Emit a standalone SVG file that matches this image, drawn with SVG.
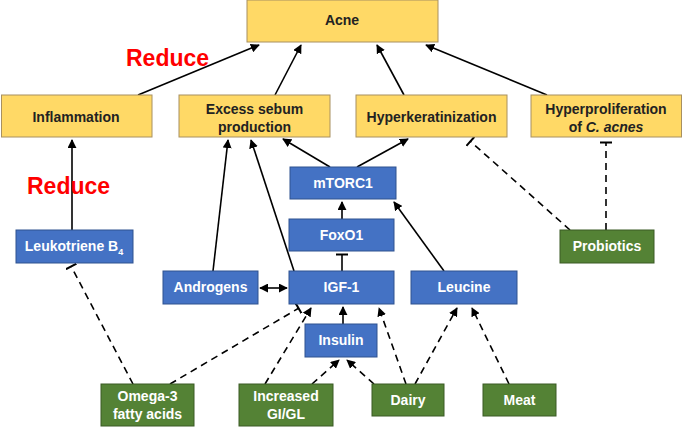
<svg xmlns="http://www.w3.org/2000/svg" width="682" height="428" viewBox="0 0 682 428">
<style>
.y{fill:#FFD966;stroke:#A89060;stroke-width:1}
.b{fill:#4472C4;stroke:#2F528F;stroke-width:1}
.g{fill:#548235;stroke:#3A5A24;stroke-width:1}
text{font-family:"Liberation Sans",Arial,sans-serif;font-weight:bold;font-size:14px;text-anchor:middle}
.dt{fill:#222}
.wt{fill:#fff}
.red{fill:#FF0000;font-size:23px;font-weight:bold;text-anchor:start}
.s{stroke:#000;stroke-width:1.6;fill:none}
.d{stroke:#000;stroke-width:1.6;fill:none;stroke-dasharray:7,5}
</style>
<defs>
<marker id="ah2" viewBox="0 0 10 10" refX="9" refY="5" markerWidth="9" markerHeight="9" orient="auto-start-reverse" markerUnits="userSpaceOnUse">
<path d="M0,0 L10,5 L0,10 z" fill="#000"/>
</marker>
<marker id="tb" viewBox="0 0 4 12" refX="2" refY="6" markerWidth="4" markerHeight="12" orient="auto" markerUnits="userSpaceOnUse">
<rect x="0.5" y="0" width="2" height="12" fill="#000"/>
</marker>
</defs>
<g id="connectors">
<line class="s" x1="138" y1="95" x2="259" y2="45" marker-end="url(#ah2)"/>
<line class="s" x1="275" y1="95" x2="301" y2="45" marker-end="url(#ah2)"/>
<line class="s" x1="404" y1="95" x2="377" y2="45" marker-end="url(#ah2)"/>
<line class="s" x1="547" y1="95" x2="426" y2="45" marker-end="url(#ah2)"/>
<line class="s" x1="72" y1="230" x2="72" y2="140" marker-end="url(#ah2)"/>
<line class="s" x1="330" y1="167" x2="283" y2="139" marker-end="url(#ah2)"/>
<line class="s" x1="357" y1="167" x2="408" y2="139" marker-end="url(#ah2)"/>
<line class="s" x1="444" y1="271" x2="394" y2="202" marker-end="url(#ah2)"/>
<line class="s" x1="342" y1="219" x2="342" y2="202" marker-end="url(#ah2)"/>
<line class="s" x1="342" y1="271" x2="342" y2="254" marker-end="url(#tb)"/>
<line class="s" x1="213" y1="271" x2="228" y2="140" marker-end="url(#ah2)"/>
<line class="s" x1="294" y1="271" x2="251" y2="140" marker-end="url(#ah2)"/>
<line class="s" x1="260" y1="288" x2="287" y2="288" marker-start="url(#ah2)" marker-end="url(#ah2)"/>
<line class="s" x1="343" y1="324" x2="343" y2="307" marker-end="url(#ah2)"/>
<line class="d" x1="570" y1="230" x2="470" y2="141" marker-end="url(#tb)"/>
<line class="d" x1="606" y1="230" x2="606" y2="142" marker-end="url(#tb)"/>
<line class="d" x1="133" y1="384" x2="71" y2="266" marker-end="url(#tb)"/>
<line class="d" x1="170" y1="384" x2="299" y2="308" marker-end="url(#tb)"/>
<line class="d" x1="265" y1="384" x2="311" y2="308" marker-end="url(#ah2)"/>
<line class="d" x1="312" y1="384" x2="339" y2="360" marker-end="url(#ah2)"/>
<line class="d" x1="374" y1="384" x2="347" y2="360" marker-end="url(#ah2)"/>
<line class="d" x1="406" y1="384" x2="379" y2="308" marker-end="url(#ah2)"/>
<line class="d" x1="415" y1="384" x2="457" y2="308" marker-end="url(#ah2)"/>
<line class="d" x1="509" y1="384" x2="472" y2="308" marker-end="url(#ah2)"/>
</g>
<g id="acne"><rect class="y" x="247" y="0" width="191" height="42"/><text class="dt" x="342" y="25">Acne</text></g>
<g id="inflammation"><rect class="y" x="1.5" y="95" width="150.5" height="42"/><text class="dt" x="76" y="122">Inflammation</text></g>
<g id="sebum"><rect class="y" x="179" y="95" width="151" height="42"/><text class="dt" x="254.5" y="114">Excess sebum</text><text class="dt" x="254.5" y="132">production</text></g>
<g id="hyperker"><rect class="y" x="356" y="95" width="151" height="42"/><text class="dt" x="431.5" y="122">Hyperkeratinization</text></g>
<g id="hyperprolif"><rect class="y" x="531" y="95" width="150.5" height="42"/><text class="dt" x="606" y="114">Hyperproliferation</text><text class="dt" x="606" y="132">of <tspan font-style="italic">C. acnes</tspan></text></g>
<g id="reduce1"><text class="red" x="126" y="66">Reduce</text></g>
<g id="reduce2"><text class="red" x="27" y="194">Reduce</text></g>
<g id="mtorc1"><rect class="b" x="290" y="167" width="106" height="32"/><text class="wt" x="343" y="188">mTORC1</text></g>
<g id="foxo1"><rect class="b" x="289" y="219" width="105" height="32"/><text class="wt" x="341.5" y="240">FoxO1</text></g>
<g id="leukotriene"><rect class="b" x="16" y="230" width="117" height="33"/><text class="wt" x="74" y="251">Leukotriene B<tspan font-size="9" dy="4">4</tspan></text></g>
<g id="probiotics"><rect class="g" x="560" y="230" width="94" height="33"/><text class="wt" x="607" y="251">Probiotics</text></g>
<g id="androgens"><rect class="b" x="163" y="271" width="95" height="33"/><text class="wt" x="210.5" y="292">Androgens</text></g>
<g id="igf1"><rect class="b" x="289" y="271" width="105" height="33"/><text class="wt" x="341.5" y="292">IGF-1</text></g>
<g id="leucine"><rect class="b" x="411" y="271" width="106" height="33"/><text class="wt" x="464" y="292">Leucine</text></g>
<g id="insulin"><rect class="b" x="305" y="324" width="72" height="33"/><text class="wt" x="341" y="345">Insulin</text></g>
<g id="omega3"><rect class="g" x="101" y="384" width="93" height="42"/><text class="wt" x="147.5" y="401">Omega-3</text><text class="wt" x="147.5" y="419">fatty acids</text></g>
<g id="gigl"><rect class="g" x="239" y="384" width="94" height="42"/><text class="wt" x="286" y="401">Increased</text><text class="wt" x="286" y="419">GI/GL</text></g>
<g id="dairy"><rect class="g" x="372" y="384" width="72" height="32"/><text class="wt" x="408" y="405">Dairy</text></g>
<g id="meat"><rect class="g" x="483" y="384" width="73" height="32"/><text class="wt" x="519.5" y="405">Meat</text></g>
</svg>
